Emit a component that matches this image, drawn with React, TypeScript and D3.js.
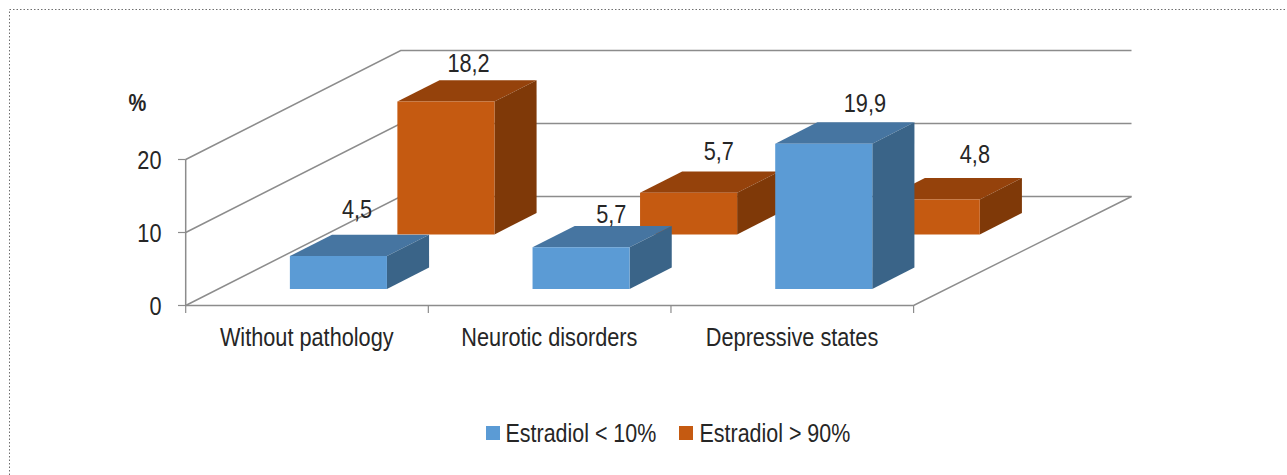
import React from "react";
import * as d3 from "d3";

const categories = ["Without pathology", "Neurotic disorders", "Depressive states"];
const seriesNames = ["Estradiol < 10%", "Estradiol > 90%"];
const lowEstradiol = [4.5, 5.7, 19.9];
const highEstradiol = [18.2, 5.7, 4.8];
const valueLabelsLow = ["4,5", "5,7", "19,9"];
const valueLabelsHigh = ["18,2", "5,7", "4,8"];
const yTicks = [0, 10, 20];

const WIDTH = 1287;
const HEIGHT = 475;
const DEPTH_X = 215;
const DEPTH_Y = 109;
const BACK_STRETCH = 1.004;
const FLOOR_LEFT = 185.7;
const FLOOR_RIGHT = 913.6;
const FONT = "'Liberation Sans', Arial, sans-serif";
const FONT_SIZE = 26;
const SQUEEZE = 0.835;
const LEGEND_SQUEEZE = 0.825;
const GRID = "#8c8c8c";
const INK = "#262626";

const palette = [
  { front: "#5b9bd5", top: "#4675a1", side: "#3a6488" },
  { front: "#c55a11", top: "#95420b", side: "#7f3908" },
];

// Fine placement of each value label relative to the top-back centre of its bar
const labelNudgeLow = [[-23.5, -17], [-12, -3], [-1, -10]];
const labelNudgeHigh = [[-19.5, -8], [-12, -11], [1.5, -15]];

const xScale = d3.scaleBand<string>().domain(categories).range([184.4, 912.4]).paddingInner(0.6).paddingOuter(0.3);
const yScale = d3.scaleLinear().domain([0, 20]).range([305.5, 159.5]);
const depthScale = d3.scaleBand<string>().domain(seriesNames).range([0, 1]).paddingInner(0.608).paddingOuter(0.304);

// Oblique projection: x along the categories, v up the value axis, d from front (0) to back (1)
const project = (x: number, v: number, d: number): [number, number] => [x + d * DEPTH_X, yScale(v) - d * DEPTH_Y];
const polygon = (pts: [number, number][]) => d3.line()(pts) + "Z";

function Label({ x, y, anchor = "middle", bold = false, squeeze = SQUEEZE, children }: any) {
  return (
    <text
      transform={`translate(${x},${y}) scale(${squeeze},1)`}
      textAnchor={anchor}
      fontFamily={FONT}
      fontSize={bold ? 24 : FONT_SIZE}
      fontWeight={bold ? "bold" : "normal"}
      fill={INK}
    >
      {children}
    </text>
  );
}

function Bar({ category, series, value, colors }: any) {
  const x0 = xScale(category)!;
  const x1 = x0 + xScale.bandwidth();
  const d0 = depthScale(series)!;
  const d1 = d0 + depthScale.bandwidth();
  return (
    <g>
      <path d={polygon([project(x0, value, d0), project(x1, value, d0), project(x1, value, d1), project(x0, value, d1)])} fill={colors.top} />
      <path d={polygon([project(x1, 0, d0), project(x1, value, d0), project(x1, value, d1), project(x1, 0, d1)])} fill={colors.side} />
      <path d={polygon([project(x0, 0, d0), project(x1, 0, d0), project(x1, value, d0), project(x0, value, d0)])} fill={colors.front} />
    </g>
  );
}

export default function App() {
  const step = (FLOOR_RIGHT - FLOOR_LEFT) / categories.length;
  const backRight: [number, number] = [FLOOR_LEFT + (FLOOR_RIGHT - FLOOR_LEFT) * BACK_STRETCH + DEPTH_X, 0];
  const rows = [
    { series: seriesNames[1], values: highEstradiol, texts: valueLabelsHigh, nudge: labelNudgeHigh, colors: palette[1] },
    { series: seriesNames[0], values: lowEstradiol, texts: valueLabelsLow, nudge: labelNudgeLow, colors: palette[0] },
  ];
  const xTickPositions = d3.range(categories.length + 1).map((i) => FLOOR_LEFT + i * step);
  const legendItems = [
    { name: seriesNames[0], swatch: 486, text: 505.5, color: palette[0].front },
    { name: seriesNames[1], swatch: 679, text: 699.5, color: palette[1].front },
  ];

  return (
    <svg width={WIDTH} height={HEIGHT} style={{ position: "absolute", left: 0, top: 0, background: "#fff" }}>
      {/* dotted frame around the figure */}
      <path d={`M9.5,${HEIGHT}V9.5H${WIDTH}`} fill="none" stroke="#6e6e6e" strokeDasharray="1.5 2" />

      {/* walls and floor */}
      {yTicks.map((t) => {
        const a = project(FLOOR_LEFT, t, 0);
        const b = project(FLOOR_LEFT, t, 1);
        const c: [number, number] = [backRight[0], b[1]];
        return <path key={t} d={d3.line()([a, b, c])!} fill="none" stroke={GRID} strokeWidth={1.5} />;
      })}
      <path
        d={d3.line()([project(FLOOR_LEFT, 20, 0), project(FLOOR_LEFT, 0, 0), project(FLOOR_RIGHT, 0, 0), [backRight[0], yScale(0) - DEPTH_Y]])!}
        fill="none"
        stroke={GRID}
        strokeWidth={1.5}
      />

      {/* axis ticks */}
      {yTicks.map((t) => (
        <line key={t} x1={178} x2={FLOOR_LEFT} y1={yScale(t)} y2={yScale(t)} stroke={GRID} strokeWidth={1.2} />
      ))}
      {xTickPositions.map((x) => (
        <line key={x} x1={x} x2={x} y1={yScale(0)} y2={yScale(0) + 7.5} stroke={GRID} strokeWidth={1.2} />
      ))}

      {/* bars, back row first */}
      {rows.map((r) => categories.map((c, i) => <Bar key={r.series + c} category={c} series={r.series} value={r.values[i]} colors={r.colors} />))}

      {/* value labels */}
      {rows.map((r) =>
        categories.map((c, i) => {
          const [x, y] = project(xScale(c)! + xScale.bandwidth() / 2, r.values[i], depthScale(r.series)! + depthScale.bandwidth());
          return (
            <Label key={r.series + c} x={x + r.nudge[i][0]} y={y + r.nudge[i][1]}>
              {r.texts[i]}
            </Label>
          );
        })
      )}

      {/* value axis text */}
      {yTicks.map((t) => (
        <Label key={t} x={161.5} y={yScale(t) + 9} anchor="end">
          {t}
        </Label>
      ))}
      <Label x={137.5} y={111} bold>
        %
      </Label>

      {/* category text */}
      {categories.map((c) => (
        <Label key={c} x={xScale(c)! + xScale.bandwidth() / 2 + 1} y={346}>
          {c}
        </Label>
      ))}

      {/* legend */}
      {legendItems.map((l) => (
        <g key={l.name}>
          <rect x={l.swatch} y={426} width={14} height={14} fill={l.color} />
          <Label x={l.text} y={441.5} anchor="start" squeeze={LEGEND_SQUEEZE}>
            {l.name}
          </Label>
        </g>
      ))}
    </svg>
  );
}
